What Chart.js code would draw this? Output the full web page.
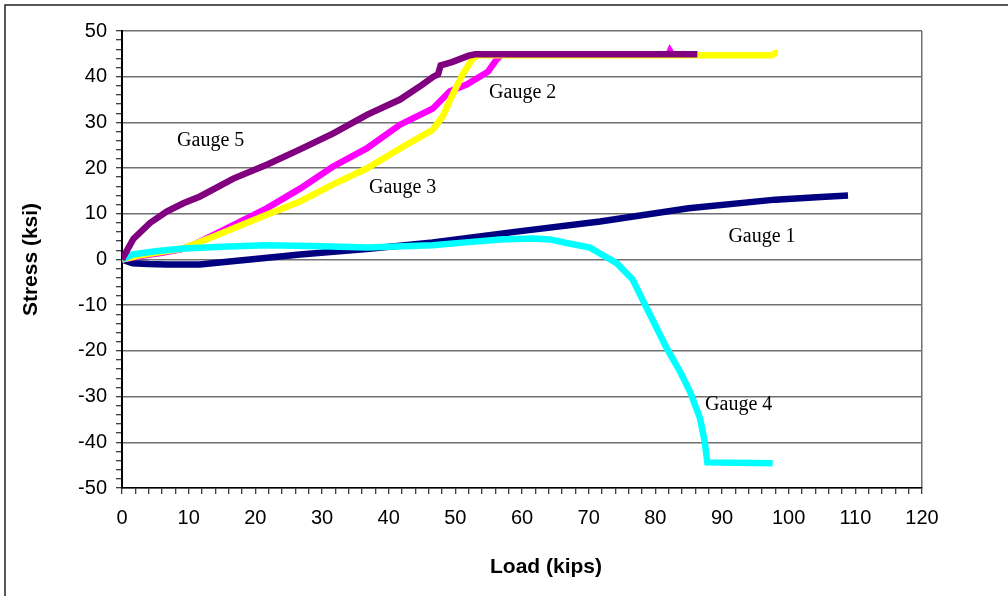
<!DOCTYPE html>
<html>
<head>
<meta charset="utf-8">
<script src="https://cdn.jsdelivr.net/npm/chart.js@4"></script>
<style>
  body { margin: 0; background: #fff; }
</style>
</head>
<body>
<canvas id="myChart" width="1008" height="596"></canvas>
<script>
// ---------- data (load in kips, stress in ksi) ----------
var gauge1Load   = [0, 1.6, 4, 6.7, 11.7, 15, 19.2, 26.7, 36.7, 46.6, 59.2, 71.7, 85, 98, 104.2, 108.9];
var gauge1Stress = [0, -0.8, -1, -1.1, -1.1, -0.6, 0, 1.1, 2.3, 3.7, 6.1, 8.3, 11.2, 13.1, 13.6, 14.0];

var gauge2Load   = [0, 3, 6.2, 9, 11, 14.2, 21.7, 26.7, 31.6, 36.7, 41.7, 46.6, 49.2, 51.7, 54.9, 56.2, 57, 82, 82.2, 82.5, 86.3];
var gauge2Stress = [0, 0.8, 1.5, 2.3, 3.4, 5.7, 11.2, 15.5, 20.3, 24.3, 29.5, 33, 36.8, 38.3, 41.1, 43.8, 44.9, 44.9, 45.6, 44.9, 44.9];

var gauge3Load   = [0, 3, 6, 9.2, 14.2, 21.7, 26.7, 31.6, 36.7, 41.7, 46.6, 48.1, 49.6, 51.1, 52.6, 53.5, 97.5, 98, 98.4];
var gauge3Stress = [0, 1, 1.7, 2.4, 5.3, 9.8, 12.7, 16.4, 19.9, 24.3, 28.4, 31.3, 36.1, 40.5, 44, 44.7, 44.7, 45.2, 45.2];

var gauge4Load   = [0, 1.6, 5, 9.2, 15, 21.7, 30, 36.7, 46.6, 52, 56.7, 61.6, 64.2, 66.7, 70.2, 71.7, 74.2, 76.6, 78.7, 80.2, 81.7, 83.7, 85.2, 86.7, 87.4, 87.8, 97.6];
var gauge4Stress = [0, 1.1, 1.8, 2.4, 2.8, 3.1, 2.9, 2.6, 3.1, 3.8, 4.4, 4.6, 4.4, 3.6, 2.6, 1.3, -0.8, -4.4, -10.6, -15, -19.4, -24.5, -28.9, -34.7, -39.8, -44.4, -44.6];

var gauge5Load   = [0, 1.7, 4.2, 6.7, 9.2, 11.7, 16.7, 21.8, 26.7, 31.7, 36.8, 41.7, 45, 46.7, 47.4, 47.8, 49.5, 52, 53, 86.3];
var gauge5Stress = [0, 4.5, 8.0, 10.5, 12.3, 13.8, 17.7, 20.8, 24.1, 27.6, 31.7, 35, 38.2, 40, 40.5, 42.5, 43.2, 44.6, 44.9, 44.9];

// label text and where it sits (load, stress)
var gaugeNames  = ['Gauge 1', 'Gauge 2', 'Gauge 3', 'Gauge 4', 'Gauge 5'];
var labelLoad   = [96.0, 60.1, 42.1, 92.5, 13.3];
var labelStress = [5.0, 36.5, 15.8, -31.7, 26.0];

var xTicks = [0, 120, 10];   // min, max, major step
var yTicks = [-50, 50, 10];

function pts(xs, ys) {
    return xs.map(function (x, i) { return { x: x, y: ys[i] }; });
}

// gauge names, x title and frame
var extras = {
    id: 'extras',
    afterDraw: function (chart) {
        var c = chart.ctx, xs = chart.scales.x, ys = chart.scales.y, a = chart.chartArea;
        c.save();
        c.fillStyle = '#000';
        c.textAlign = 'center';
        c.textBaseline = 'middle';
        c.font = '20px "Liberation Serif"';
        gaugeNames.forEach(function (n, i) {
            c.fillText(n, xs.getPixelForValue(labelLoad[i]), ys.getPixelForValue(labelStress[i]));
        });
        c.font = 'bold 21px "Liberation Sans"';
        c.fillText('Load (kips)', (a.left + a.right) / 2 + 24, 567);
        // outer frame (top and left only visible)
        c.strokeStyle = '#222';
        c.lineWidth = 1.5;
        c.beginPath();
        c.moveTo(5, 596);
        c.lineTo(5, 5);
        c.lineTo(1008, 5);
        c.stroke();
        c.restore();
    }
};

var ctx = document.getElementById('myChart').getContext('2d');
var chart = new Chart(ctx, {
    type: 'line',
    data: {
        datasets: [
            { label: 'Gauge 1', data: pts(gauge1Load, gauge1Stress), borderColor: '#000080', order: 4 },
            { label: 'Gauge 2', data: pts(gauge2Load, gauge2Stress), borderColor: '#FF00FF', order: 3 },
            { label: 'Gauge 3', data: pts(gauge3Load, gauge3Stress), borderColor: '#FFFF00', order: 2 },
            { label: 'Gauge 4', data: pts(gauge4Load, gauge4Stress), borderColor: '#00FFFF', order: 1 },
            { label: 'Gauge 5', data: pts(gauge5Load, gauge5Stress), borderColor: '#800080', order: 0 }
        ]
    },
    options: {
        responsive: false,
        animation: false,
        elements: {
            line: { borderWidth: 6.5, tension: 0, fill: false, borderJoinStyle: 'miter' },
            point: { radius: 0, hitRadius: 0, hoverRadius: 0 }
        },
        layout: { padding: { left: 0, right: 86, top: 31, bottom: 0 } },
        plugins: {
            legend: { display: false },
            tooltip: { enabled: false }
        },
        scales: {
            x: {
                type: 'linear',
                min: xTicks[0], max: xTicks[1],
                afterFit: function (s) { s.height = 108; },
                ticks: {
                    stepSize: 2, autoSkip: false, maxRotation: 0, padding: 12,
                    color: '#000',
                    font: { family: 'Liberation Sans', size: 20 },
                    callback: function (v) { return v % xTicks[2] === 0 ? v : ''; }
                },
                grid: {
                    color: function (c) { return c.tick && c.tick.value === xTicks[1] ? '#707070' : 'rgba(0,0,0,0)'; },
                    lineWidth: 1.5,
                    tickColor: '#000',
                    tickLength: 6,
                    tickWidth: 1
                },
                border: { color: '#000', width: 1.5 }
            },
            y: {
                min: yTicks[0], max: yTicks[1],
                afterFit: function (s) { s.width = 122; },
                ticks: {
                    stepSize: 2, autoSkip: false, padding: 9,
                    color: '#000',
                    font: { family: 'Liberation Sans', size: 20 },
                    callback: function (v) { return v % yTicks[2] === 0 ? v : ''; }
                },
                grid: {
                    color: function (c) { return c.tick && c.tick.value % yTicks[2] === 0 ? '#707070' : 'rgba(0,0,0,0)'; },
                    lineWidth: 1.5,
                    tickColor: '#000',
                    tickLength: 6,
                    tickWidth: 1
                },
                border: { color: '#000', width: 2 },
                title: {
                    display: true,
                    text: 'Stress (ksi)',
                    color: '#000',
                    font: { family: 'Liberation Sans', size: 21, weight: 'bold' },
                    padding: { top: 19, bottom: 0 }
                }
            }
        }
    },
    plugins: [extras]
});
</script>
</body>
</html>
